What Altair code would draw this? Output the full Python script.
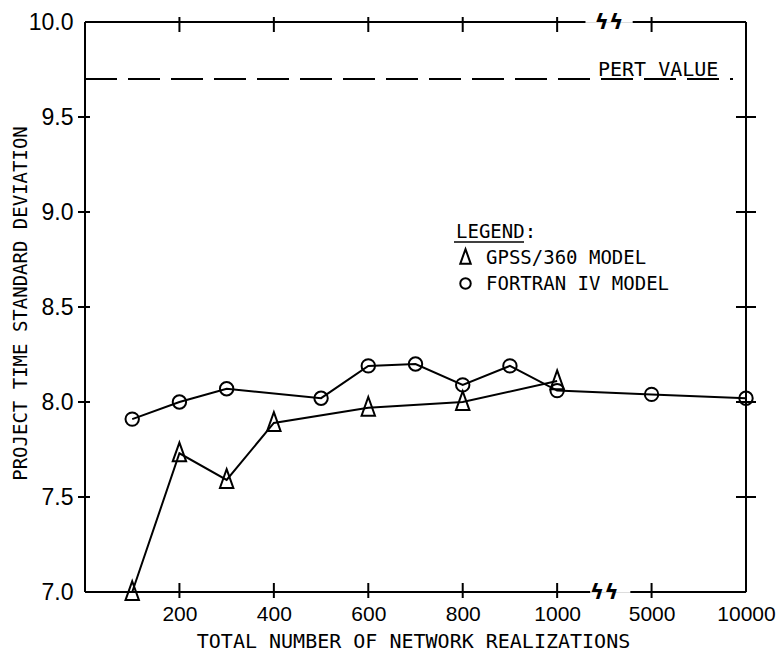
import altair as alt
import pandas as pd

# ---- data ----
realizations = [100, 200, 300, 400, 500, 600, 700, 800, 900, 1000, 5000, 10000]
fortran_iv = [7.91, 8.00, 8.07, None, 8.02, 8.19, 8.20, 8.09, 8.19, 8.06, 8.04, 8.02]
gpss_360 = [7.00, 7.73, 7.59, 7.89, None, 7.97, None, 8.00, None, 8.11, None, None]
series_names = ["GPSS/360 MODEL", "FORTRAN IV MODEL"]
x_tick_labels = ["200", "400", "600", "800", "1000", "5000", "10000"]
y_tick_values = [7.0, 7.5, 8.0, 8.5, 9.0, 9.5, 10.0]
pert_value = 9.7
pert_label = "PERT VALUE"
x_title = "TOTAL NUMBER OF NETWORK REALIZATIONS"
y_title = "PROJECT TIME STANDARD DEVIATION"


# broken axis: 100..1000 evenly spaced, then a break, then 5000 and 10000
def axis_pos(i):
    return i + 1 if i < 10 else 10 + 2 * (i - 9)


pos_of = {str(r): axis_pos(i) for i, r in enumerate(realizations)}
x_tick_pos = [pos_of[l] for l in x_tick_labels]
break_pos = (pos_of["1000"] + pos_of["5000"]) / 2
x_max = pos_of["10000"]

rows = []
for name, vals in zip(series_names, [gpss_360, fortran_iv]):
    for i, (r, v) in enumerate(zip(realizations, vals)):
        if v is not None:
            rows.append({"model": name, "realizations": r, "pos": axis_pos(i), "value": v})
df = pd.DataFrame(rows)

W, H = 661, 570
MONO = "DejaVu Sans Mono"
NUM = "Liberation Sans"

label_expr = " : ".join(
    f"datum.value == {p} ? '{l}'" for p, l in zip(x_tick_pos, x_tick_labels)
) + " : ''"

xscale = alt.Scale(domain=[0, x_max], nice=False, zero=False)
yscale = alt.Scale(domain=[7.0, 10.0], nice=False, zero=False)

tri = "M0,-1.6L1,1.2L-1,1.2Z"

x_enc = alt.X(
    "pos:Q", scale=xscale,
    axis=alt.Axis(values=x_tick_pos, labelExpr=label_expr, title=x_title,
                  domain=False, ticks=False, grid=False, labelOverlap=False, labelFlush=False,
                  labelFont=NUM, labelFontSize=21, labelColor="black", labelPadding=11,
                  titleFont=MONO, titleFontSize=20, titleFontWeight="normal",
                  titleColor="black", titleX=328, titleY=55, titleBaseline="alphabetic"),
)
y_enc = alt.Y(
    "value:Q", scale=yscale,
    axis=alt.Axis(values=y_tick_values, format=".1f", title=y_title,
                  domain=False, ticks=False, grid=False, labelOverlap=False, labelFlush=False,
                  labelFont=NUM, labelFontSize=23, labelColor="black", labelPadding=12,
                  titleFont=MONO, titleFontSize=19, titleFontWeight="normal",
                  titleColor="black", titleX=-65, titleY=281, titleBaseline="middle"),
)

base = alt.Chart(df)

lines = base.mark_line(color="black", strokeWidth=2).encode(
    x=x_enc, y=y_enc, detail="model:N"
)
points = base.mark_point(filled=False, color="black", strokeWidth=2, size=180, opacity=1).encode(
    x=alt.X("pos:Q", scale=xscale),
    y=alt.Y("value:Q", scale=yscale),
    shape=alt.Shape(
        "model:N",
        scale=alt.Scale(domain=series_names, range=[tri, "circle"]),
        legend=alt.Legend(
            title="LEGEND:", orient="none", legendX=371, legendY=201,
            titleFont=MONO, titleFontSize=19, titleFontWeight="normal", titleColor="black",
            titlePadding=6, labelFont=MONO, labelFontSize=19, labelColor="black",
            labelOffset=11, labelLimit=400, symbolStrokeColor="black", symbolFillColor="white",
            symbolStrokeWidth=2, symbolSize=110, rowPadding=6,
        ),
    ),
)

# PERT reference line and label
pert_df = pd.DataFrame({"value": [pert_value], "label": [pert_label]})
pert_line = alt.Chart(pert_df).mark_rule(color="black", strokeWidth=2, strokeDash=[32, 11]).encode(
    y=alt.Y("value:Q", scale=yscale), x=alt.value(0), x2=alt.value(648)
)
pert_text = alt.Chart(pert_df).mark_text(
    font=MONO, fontSize=20, align="left", baseline="bottom", dy=1, color="black"
).encode(y=alt.Y("value:Q", scale=yscale), x=alt.value(513), text="label:N")

# frame with broken top/bottom lines
frame_v = alt.Chart(pd.DataFrame({"side": [0, x_max]})).mark_rule(color="black", strokeWidth=2).encode(
    x=alt.X("side:Q", scale=xscale), y=alt.value(0), y2=alt.value(H)
)
seg_df = pd.DataFrame({
    "a": [0, break_pos + 0.55, 0, break_pos + 0.6],
    "b": [break_pos - 0.3, x_max, break_pos - 0.4, x_max],
    "edge": [7.0, 7.0, 10.0, 10.0],
})
frame_h = alt.Chart(seg_df).mark_rule(color="black", strokeWidth=2).encode(
    x=alt.X("a:Q", scale=xscale), x2="b:Q", y=alt.Y("edge:Q", scale=yscale)
)
break_df = pd.DataFrame({"pos": [break_pos, break_pos + 0.1], "edge": [7.0, 10.0], "t": ["ϟϟ", "ϟϟ"]})
breaks = alt.Chart(break_df).mark_text(
    font="DejaVu Sans", fontSize=22, fontWeight="bold", color="black", baseline="middle"
).encode(x=alt.X("pos:Q", scale=xscale), y=alt.Y("edge:Q", scale=yscale), text="t:N")

# crossing tick marks
xt_df = pd.DataFrame({"pos": x_tick_pos[:-1]})
xt_bottom = alt.Chart(xt_df).mark_rule(color="black", strokeWidth=2).encode(
    x=alt.X("pos:Q", scale=xscale), y=alt.value(H - 9), y2=alt.value(H + 6)
)
xt_top = alt.Chart(xt_df).mark_rule(color="black", strokeWidth=2).encode(
    x=alt.X("pos:Q", scale=xscale), y=alt.value(-5), y2=alt.value(10)
)
yt_df = pd.DataFrame({"value": y_tick_values[1:-1]})
yt_left = alt.Chart(yt_df).mark_rule(color="black", strokeWidth=2).encode(
    y=alt.Y("value:Q", scale=yscale), x=alt.value(-7), x2=alt.value(5)
)
yt_right = alt.Chart(yt_df).mark_rule(color="black", strokeWidth=2).encode(
    y=alt.Y("value:Q", scale=yscale), x=alt.value(W - 10), x2=alt.value(W + 10)
)

# underline under the legend title
uline = alt.Chart(pd.DataFrame({"v": [0]})).mark_rule(color="black", strokeWidth=1.5).encode(
    x=alt.value(369), x2=alt.value(439), y=alt.value(220)
)

chart = alt.layer(
    lines, points, pert_line, pert_text, frame_v, frame_h, breaks,
    xt_bottom, xt_top, yt_left, yt_right, uline,
).properties(
    width=W, height=H,
    autosize=alt.AutoSizeParams(type="none"),
    padding={"left": 77, "top": 14, "right": 30, "bottom": 60},
).configure_view(stroke=None).configure(background="white")

chart.save("out.html", embed_options={"renderer": "svg", "actions": False})
